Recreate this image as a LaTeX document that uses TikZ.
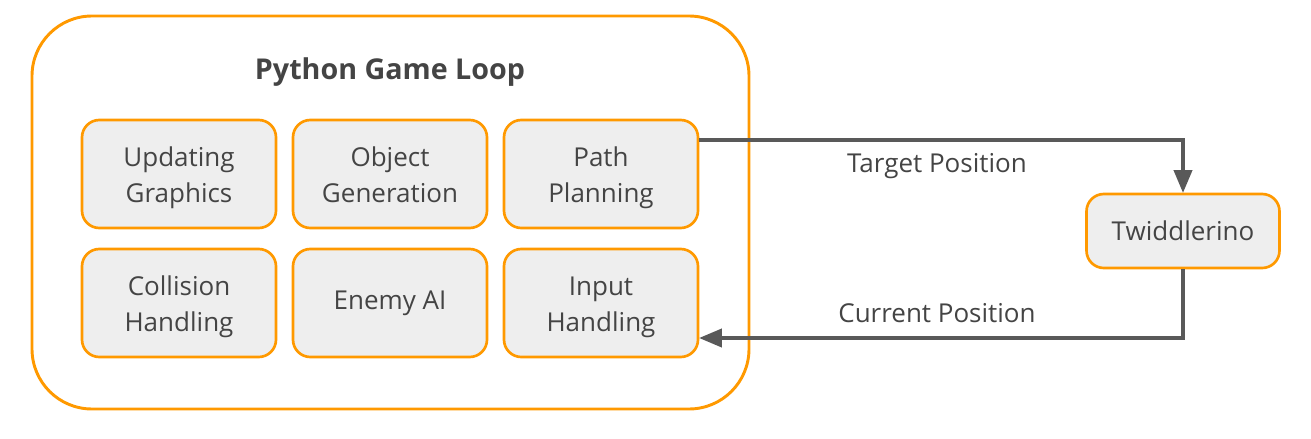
\documentclass[tikz,border=0pt]{standalone}
\usepackage{fontspec}
\setmainfont{Open Sans}
\usepackage{tikz}
\usetikzlibrary{arrows}
\usetikzlibrary{positioning}
\definecolor{tangerine}{RGB}{255, 153, 0}
\definecolor{cloud}{RGB}{238, 238, 238}
\definecolor{graphite}{RGB}{89, 89, 89}
\definecolor{inktext}{RGB}{68, 68, 68}

\tikzset{
    task/.style={draw=tangerine, fill=cloud, line width=2pt, rounded corners=13pt,
                 minimum width=145.5pt, minimum height=81pt, align=center,
                 text=inktext, font=\fontsize{19.5}{27}\selectfont},
    twoline/.style={text height=48pt, text depth=5pt},
    link/.style={draw=graphite, line width=3pt, -triangle 45},
    tag/.style={text=inktext, font=\fontsize{19.5}{22}\selectfont}
}

\begin{document}
\begin{tikzpicture}[x=0.75pt, y=-0.75pt]
        \useasboundingbox (0,0) rectangle (1311,439);
        \draw[tangerine, line width=2.2pt, rounded corners=45pt] (32,16) rectangle (749,409);
        \node[text=inktext, font=\fontsize{21.5}{26}\selectfont\bfseries] (title) at (390,72) {Python Game Loop};
        \node[task, twoline] (graphics)  at (179,174) {Updating\\Graphics};
        \node[task, twoline] (objects)   at (390,174) {Object\\Generation};
        \node[task, twoline] (path)      at (601,174) {Path\\Planning};
        \node[task, twoline] (collision) at (179,303) {Collision\\Handling};
        \node[task]          (enemy)     at (390,303) {Enemy AI};
        \node[task, twoline] (input)     at (601,303) {Input\\Handling};
        \node[task, minimum width=144.75pt, minimum height=55.5pt] (twiddle) at (1183,231) {Twiddlerino};
        % links to and from the device
        \draw[link] (path.east |- 0,140) -| (twiddle.north);
        \draw[link] (twiddle.south) |- (input.east |- 0,338);
        \node[tag] (target)  at (937,166) {Target Position};
        \node[tag] (current) at (937,313) {Current Position};
\end{tikzpicture}
\end{document}
